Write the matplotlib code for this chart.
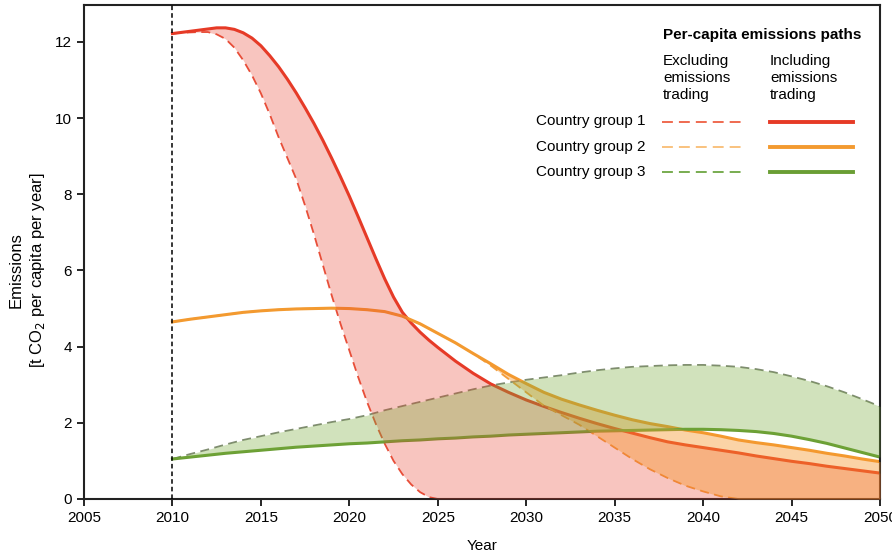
import numpy as np
import matplotlib.pyplot as plt
from matplotlib.lines import Line2D

plt.rcParams['font.family'] = ['Liberation Sans', 'DejaVu Sans']

# per-capita emissions, t CO2 per capita per year
# group 1 falls steeply, so it is sampled every half year up to 2025
years_g1 = np.concatenate([np.arange(2010, 2025, 0.5), np.arange(2025, 2051)])
years = np.arange(2010, 2051)

g1_incl = [12.22, 12.25, 12.28, 12.31, 12.34, 12.37, 12.37, 12.33, 12.24, 12.1,
           11.9, 11.64, 11.35, 11.02, 10.66, 10.27, 9.86, 9.42, 8.95, 8.46,
           7.95, 7.41, 6.86, 6.31, 5.78, 5.3, 4.9, 4.62, 4.38, 4.17,
           3.98, 3.62, 3.3, 3.02, 2.8,
           2.6, 2.43, 2.27, 2.12, 1.98, 1.85, 1.73, 1.61, 1.5, 1.42,
           1.35, 1.28, 1.21, 1.13, 1.06, 0.99, 0.93, 0.86, 0.8, 0.74, 0.68]
g1_excl = [12.22, 12.24, 12.25, 12.26, 12.26, 12.2, 12.08, 11.85, 11.52, 11.12,
           10.65, 10.1, 9.5, 8.95, 8.4, 7.7, 6.95, 6.15, 5.35, 4.6,
           3.9, 3.2, 2.55, 1.97, 1.45, 1.0, 0.65, 0.38, 0.18, 0.05,
           0, 0, 0, 0, 0,
           0, 0, 0, 0, 0, 0, 0, 0, 0, 0,
           0, 0, 0, 0, 0, 0, 0, 0, 0, 0, 0]

g2_incl = [4.65, 4.72, 4.78, 4.84, 4.9, 4.94, 4.97, 4.99, 5.0, 5.01,
           5.0, 4.97, 4.92, 4.8, 4.6, 4.35, 4.1, 3.82, 3.55, 3.27,
           3.03, 2.8, 2.62, 2.47, 2.33, 2.2, 2.08, 1.98, 1.9, 1.81,
           1.74, 1.65, 1.55, 1.48, 1.42, 1.35, 1.28, 1.2, 1.13, 1.05, 0.98]
g2_excl = [4.65, 4.72, 4.78, 4.84, 4.9, 4.94, 4.97, 4.99, 5.0, 5.01,
           5.0, 4.97, 4.92, 4.8, 4.6, 4.35, 4.1, 3.82, 3.5, 3.15,
           2.8, 2.45, 2.2, 1.95, 1.65, 1.35, 1.05, 0.78, 0.55, 0.35,
           0.2, 0.07, 0, 0, 0, 0, 0, 0, 0, 0, 0]

g3_incl = [1.05, 1.1, 1.15, 1.2, 1.24, 1.28, 1.32, 1.36, 1.39, 1.42,
           1.45, 1.47, 1.5, 1.53, 1.55, 1.58, 1.6, 1.63, 1.65, 1.68,
           1.7, 1.72, 1.74, 1.76, 1.78, 1.79, 1.8, 1.81, 1.82, 1.83,
           1.83, 1.82, 1.8, 1.77, 1.72, 1.65, 1.56, 1.46, 1.34, 1.22, 1.1]
g3_excl = [1.05, 1.18, 1.3, 1.43, 1.55, 1.65, 1.75, 1.84, 1.93, 2.02,
           2.1, 2.2, 2.33, 2.44, 2.55, 2.66, 2.77, 2.88, 2.98, 3.06,
           3.13, 3.19, 3.25, 3.32, 3.38, 3.43, 3.47, 3.49, 3.51, 3.52,
           3.52, 3.5, 3.47, 3.41, 3.33, 3.22, 3.1, 2.96, 2.8, 2.62, 2.43]

groups = ['Country group 1', 'Country group 2', 'Country group 3']
line_cols = ['#e63a26', '#f39a30', '#6a9e34']
dash_cols = ['#e8503a', '#f2a040', '#7f8c70']
legend_dash = ['#ef6a50', '#f9c27e', '#78ac50']
fill_cols = ['#e8402e', '#f7962c', '#78ac3c']
fill_alpha = [0.3, 0.42, 0.34]

xs = [years_g1, years, years]
incl = [g1_incl, g2_incl, g3_incl]
excl = [g1_excl, g2_excl, g3_excl]

fig = plt.figure(figsize=(8.92, 5.59), dpi=100)
ax = fig.add_axes([84/892, 1-499/559, (880-84)/892, (499-5)/559])

# lines first, translucent bands on top so crossings pick up the tint
for i in range(3):
    ax.plot(xs[i], excl[i], color=dash_cols[i], lw=1.3, ls=(0, (5, 3)), zorder=2)
    ax.plot(xs[i], incl[i], color=line_cols[i], lw=2.2, zorder=2)
for i in range(3):
    ax.fill_between(xs[i], incl[i], excl[i], color=fill_cols[i],
                    alpha=fill_alpha[i], lw=0, zorder=3)

ax.axvline(2010, color='black', lw=1.1, ls=(0, (3, 2)), zorder=4)

ax.set_xlim(2005, 2050)
ax.set_ylim(0, 12.97)
ax.set_xticks(np.arange(2005, 2051, 5))
ax.set_yticks(np.arange(0, 13, 2))
ax.tick_params(direction='out', length=5, width=1.2, labelsize=11, colors='black')
for s in ax.spines.values():
    s.set_linewidth(1.5)
    s.set_color('#222222')
ax.set_xlabel('Year', fontsize=11, labelpad=10)

fig.text(0.031, 1-270/559, 'Emissions\n[t CO$_2$ per capita per year]',
         rotation=90, ha='center', va='center', fontsize=12,
         multialignment='center', linespacing=1.3)

# legend built by hand: two columns of line samples
def fx(px):
    return px / 892

def fy(py):
    return 1 - py / 559

fig.text(fx(663), fy(35), 'Per-capita emissions paths', fontsize=11,
         fontweight='bold', va='center')
fig.text(fx(663), fy(54), 'Excluding\nemissions\ntrading', fontsize=11,
         va='top', linespacing=1.25)
fig.text(fx(770), fy(54), 'Including\nemissions\ntrading', fontsize=11,
         va='top', linespacing=1.25)
rows = [121.5, 146.5, 171.5]
for i, name in enumerate(groups):
    fig.text(fx(645), fy(rows[i]), name, fontsize=11, ha='right', va='center')
    fig.add_artist(Line2D([fx(662), fx(741)], [fy(rows[i])] * 2,
                          color=legend_dash[i], lw=1.4, ls=(0, (5.6, 3.1))))
    fig.add_artist(Line2D([fx(770), fx(853)], [fy(rows[i])] * 2,
                          color=line_cols[i], lw=2.8))

fig.savefig('out.png', dpi=100)
